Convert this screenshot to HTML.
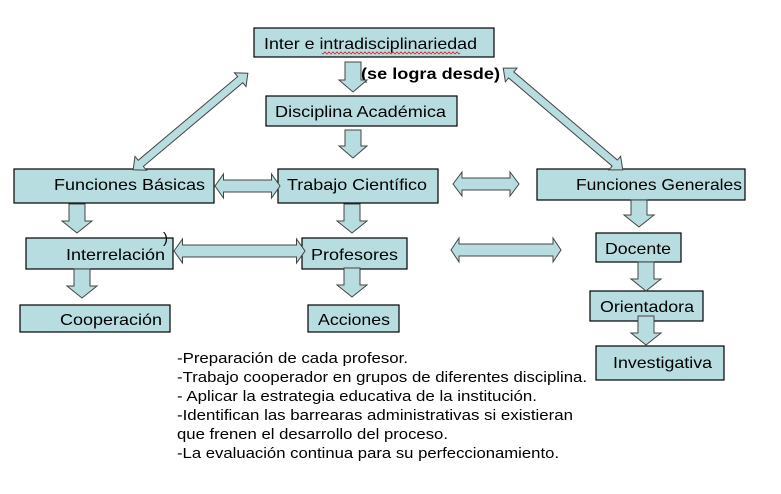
<!DOCTYPE html>
<html><head><meta charset="utf-8"><style>
body{margin:0;background:#fff}
svg{display:block}
text{font-family:"Liberation Sans",Arial,sans-serif;fill:#000}
.b{fill:#b7dde0;stroke:#000;stroke-width:1.2}
.a{fill:#b7dde0;stroke:#444;stroke-width:1}
</style></head><body>
<svg width="781" height="494" viewBox="0 0 781 494" xmlns="http://www.w3.org/2000/svg">
<g font-size="16">
<rect class="b" x="254" y="28" width="240" height="29"/>
<text x="264" y="49" font-size="16" textLength="213" lengthAdjust="spacingAndGlyphs">Inter e intradisciplinariedad</text>
<path d="M322 53 q1 2 2 0 q1 -2 2 0 q1 2 2 0 q1 -2 2 0 q1 2 2 0 q1 -2 2 0 q1 2 2 0 q1 -2 2 0 q1 2 2 0 q1 -2 2 0 q1 2 2 0 q1 -2 2 0 q1 2 2 0 q1 -2 2 0 q1 2 2 0 q1 -2 2 0 q1 2 2 0 q1 -2 2 0 q1 2 2 0 q1 -2 2 0 q1 2 2 0 q1 -2 2 0 q1 2 2 0 q1 -2 2 0 q1 2 2 0 q1 -2 2 0 q1 2 2 0 q1 -2 2 0 q1 2 2 0 q1 -2 2 0 q1 2 2 0 q1 -2 2 0 q1 2 2 0 q1 -2 2 0 q1 2 2 0 q1 -2 2 0 q1 2 2 0 q1 -2 2 0 q1 2 2 0 q1 -2 2 0 q1 2 2 0 q1 -2 2 0 q1 2 2 0 q1 -2 2 0 q1 2 2 0 q1 -2 2 0 q1 2 2 0 q1 -2 2 0 q1 2 2 0 q1 -2 2 0 q1 2 2 0 q1 -2 2 0 q1 2 2 0 q1 -2 2 0 q1 2 2 0 q1 -2 2 0 q1 2 2 0 q1 -2 2 0 q1 2 2 0 q1 -2 2 0 q1 2 2 0 q1 -2 2 0 q1 2 2 0 q1 -2 2 0 q1 2 2 0 q1 -2 2 0 q1 2 2 0 q1 -2 2 0 q1 2 2 0" fill="none" stroke="#e00" stroke-width="0.8"/>
<text x="361" y="79" font-size="16" font-weight="bold" textLength="139" lengthAdjust="spacingAndGlyphs">(se logra desde)</text>

<rect class="b" x="266" y="96" width="191" height="30"/>
<text x="275" y="117" textLength="171" lengthAdjust="spacingAndGlyphs">Disciplina Académica</text>

<rect class="b" x="14" y="169" width="200" height="34"/>
<text x="54" y="190" textLength="151" lengthAdjust="spacingAndGlyphs">Funciones Básicas</text>
<rect class="b" x="278" y="169" width="160" height="34"/>
<text x="287" y="190" textLength="140" lengthAdjust="spacingAndGlyphs">Trabajo Científico</text>
<rect class="b" x="537" y="169" width="208" height="31"/>
<text x="576" y="190" textLength="166" lengthAdjust="spacingAndGlyphs">Funciones Generales</text>

<rect class="b" x="26" y="238" width="147" height="31"/>
<text x="66" y="260" textLength="99" lengthAdjust="spacingAndGlyphs">Interrelación</text>
<text x="163" y="243" font-size="15">)</text>
<rect class="b" x="302" y="238" width="105" height="31"/>
<text x="311" y="260" textLength="87" lengthAdjust="spacingAndGlyphs">Profesores</text>
<rect class="b" x="596" y="233" width="85" height="29"/>
<text x="605" y="254" textLength="66" lengthAdjust="spacingAndGlyphs">Docente</text>

<rect class="b" x="20" y="305" width="150" height="27"/>
<text x="60" y="325" textLength="102" lengthAdjust="spacingAndGlyphs">Cooperación</text>
<rect class="b" x="308" y="305" width="91" height="27"/>
<text x="318" y="325" textLength="72" lengthAdjust="spacingAndGlyphs">Acciones</text>
<rect class="b" x="590" y="291" width="113" height="30"/>
<text x="600" y="312" textLength="94" lengthAdjust="spacingAndGlyphs">Orientadora</text>
<rect class="b" x="596" y="346" width="128" height="34"/>
<text x="613" y="368" textLength="99" lengthAdjust="spacingAndGlyphs">Investigativa</text>
</g>

<polygon class="a" points="345,62 361,62 361,80 367,80 353,92 339,80 345,80"/>
<polygon class="a" points="345,130 361,130 361,146 367,146 353,158 339,146 345,146"/>
<polygon class="a" points="69,204 85,204 85,221 92,221 77,233 62,221 69,221"/>
<polygon class="a" points="344,204 360,204 360,221 367,221 352,233 337,221 344,221"/>
<polygon class="a" points="74,269 90,269 90,286 97,286 82,298 67,286 74,286"/>
<polygon class="a" points="344,268 360,268 360,285 367,285 352,297 337,285 344,285"/>
<polygon class="a" points="631,200 647,200 647,215 654,215 639,227 624,215 631,215"/>
<polygon class="a" points="638,262 654,262 654,279 661,279 646,291 631,279 638,279"/>
<polygon class="a" points="638,316 654,316 654,333 661,333 646,345 631,333 638,333"/>

<g transform="translate(247.5,186)"><polygon class="a" points="-32.5,0 -24,-12 -24,-6 24,-6 24,-12 32.5,0 24,12 24,6 -24,6 -24,12"/></g>
<g transform="translate(486,184)"><polygon class="a" points="-33,0 -24,-12 -24,-6 24,-6 24,-12 33,0 24,12 24,6 -24,6 -24,12"/></g>
<g transform="translate(239.5,251)"><polygon class="a" points="-65.5,0 -57,-12 -57,-6 57,-6 57,-12 65.5,0 57,12 57,6 -57,6 -57,12"/></g>
<g transform="translate(506,250)"><polygon class="a" points="-55,0 -47,-12 -47,-6 47,-6 47,-12 55,0 47,12 47,6 -47,6 -47,12"/></g>

<g transform="translate(190.5,121.5) rotate(-40.1)"><polygon class="a" points="-75,0 -65,-9 -65,-4 65,-4 65,-9 75,0 65,9 65,4 -65,4 -65,9"/></g>
<g transform="translate(563,119) rotate(40.4)"><polygon class="a" points="-78.5,0 -68,-9 -68,-4 68,-4 68,-9 78.5,0 68,9 68,4 -68,4 -68,9"/></g>

<g font-size="15">
<text x="177" y="363" textLength="231" lengthAdjust="spacingAndGlyphs">-Preparación de cada profesor.</text>
<text x="177" y="382" textLength="410" lengthAdjust="spacingAndGlyphs">-Trabajo cooperador en grupos de diferentes disciplina.</text>
<text x="177" y="401" textLength="360" lengthAdjust="spacingAndGlyphs">- Aplicar la estrategia educativa de la institución.</text>
<text x="177" y="420" textLength="396" lengthAdjust="spacingAndGlyphs">-Identifican las barrearas administrativas si existieran</text>
<text x="177" y="439" textLength="271" lengthAdjust="spacingAndGlyphs">que frenen el desarrollo del proceso.</text>
<text x="177" y="458" textLength="382" lengthAdjust="spacingAndGlyphs">-La evaluación continua para su perfeccionamiento.</text>
</g>
</svg>
</body></html>
